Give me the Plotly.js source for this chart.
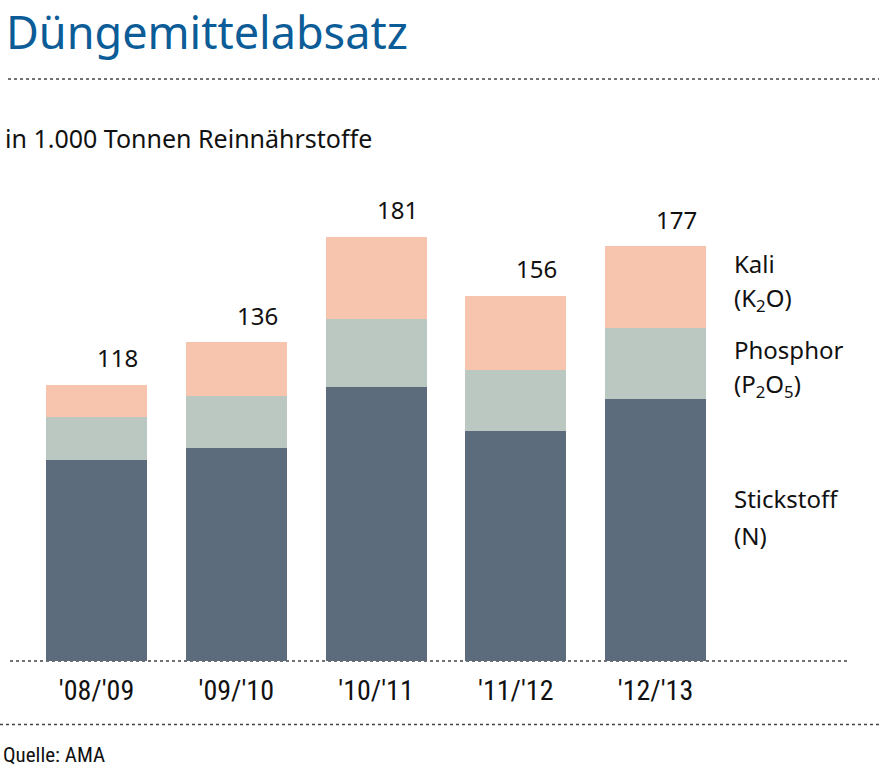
<!DOCTYPE html>
<html>
<head>
<meta charset="utf-8">
<script src="https://cdn.plot.ly/plotly-3.0.1.min.js"></script>
<style>html,body{margin:0;padding:0;background:#fff;}#chart{width:879px;height:775px;}</style>
</head>
<body>
<div id="chart"></div>
<script>
const categories = ["'08/'09", "'09/'10", "'10/'11", "'11/'12", "'12/'13"];
const stickstoff = [86, 91, 117, 98, 112];
const phosphor = [18, 22, 29, 26, 30];
const kali = [14, 23, 35, 32, 35];
const totals = [118, 136, 181, 156, 177];

const W = 879, H = 775;
const mT = 100, mB = 113.5;
const plotH = H - mT - mB;
const py = p => (H - mB - p) / plotH;   // pixel y -> paper y
const px = p => p / W;                   // pixel x -> paper x

const mainFont = "Noto Sans, Open Sans, sans-serif";
const narrowFont = "Liberation Sans Narrow, Roboto Condensed, Roboto, sans-serif";

const traces = [
  {type:'bar', name:'Stickstoff', x:categories, y:stickstoff, marker:{color:'#5d6c7c'}, hoverinfo:'skip'},
  {type:'bar', name:'Phosphor', x:categories, y:phosphor, marker:{color:'#bac8c1'}, hoverinfo:'skip'},
  {type:'bar', name:'Kali', x:categories, y:kali, marker:{color:'#f7c4ae'}, hoverinfo:'skip'}
];

const annotations = totals.map((t,i)=>({
  x: categories[i], y: t, xref:'x', yref:'y', text: String(t), showarrow:false,
  xshift: 21, yshift: 27, font:{family:mainFont, size:24, color:'#111'}
}));

function lab(text, ypix){
  return {x: px(732), y: py(ypix), xref:'paper', yref:'paper', xanchor:'left', yanchor:'middle',
          text:text, showarrow:false, font:{family:mainFont, size:24, color:'#111'}};
}
annotations.push(lab('Kali', 264));
annotations.push(lab('(K<sub>2</sub>O)', 299));
annotations.push(lab('Phosphor', 350));
annotations.push(lab('(P<sub>2</sub>O<sub>5</sub>)', 385));
annotations.push(lab('Stickstoff', 499));
annotations.push(lab('(N)', 536));
annotations.push({x: px(3), y: py(138), xref:'paper', yref:'paper', xanchor:'left', yanchor:'middle',
  text:'in 1.000 Tonnen Reinnährstoffe', showarrow:false, font:{family:mainFont, size:25, color:'#111'}});
annotations.push({x: px(1), y: py(756), xref:'paper', yref:'paper', xanchor:'left', yanchor:'middle',
  text:'Quelle: AMA', showarrow:false, font:{family:narrowFont, size:21, color:'#111'}});
annotations.push({x: px(4), y: py(31), xref:'paper', yref:'paper', xanchor:'left', yanchor:'middle',
  text:'Düngemittelabsatz', showarrow:false, font:{family:mainFont, size:45, color:'#0b5c97'}});

const dotLine = {color:'#444', width:1.6, dash:'dot'};
const shapes = [
  {type:'line', xref:'paper', yref:'paper', x0:px(8), x1:px(879), y0:py(79), y1:py(79), line:dotLine},
  {type:'line', xref:'paper', yref:'paper', x0:px(10), x1:px(848), y0:py(661.5), y1:py(661.5), line:dotLine, layer:'below'},
  {type:'line', xref:'paper', yref:'paper', x0:px(0), x1:px(879), y0:py(725), y1:py(725), line:dotLine}
];

const spacing = 139.75, c0 = 96.5;
const layout = {
  width: W, height: H,
  margin:{l:0, r:0, t:mT, b:mB, pad:0},
  paper_bgcolor:'#fff', plot_bgcolor:'#fff',
  barmode:'stack', bargap: 1 - 101/spacing,
  showlegend:false,
  xaxis:{type:'category', range:[-c0/spacing, (W-c0)/spacing], showgrid:false, zeroline:false, showline:false,
         ticks:'', ticklabelstandoff:10, tickfont:{family:narrowFont, size:28, color:'#111'}, fixedrange:true},
  yaxis:{range:[0, plotH/2.345], showgrid:false, zeroline:false, showline:false, showticklabels:false, ticks:'', fixedrange:true},
  annotations: annotations,
  shapes: shapes
};
Plotly.newPlot('chart', traces, layout, {displayModeBar:false, staticPlot:true});
</script>
</body>
</html>
